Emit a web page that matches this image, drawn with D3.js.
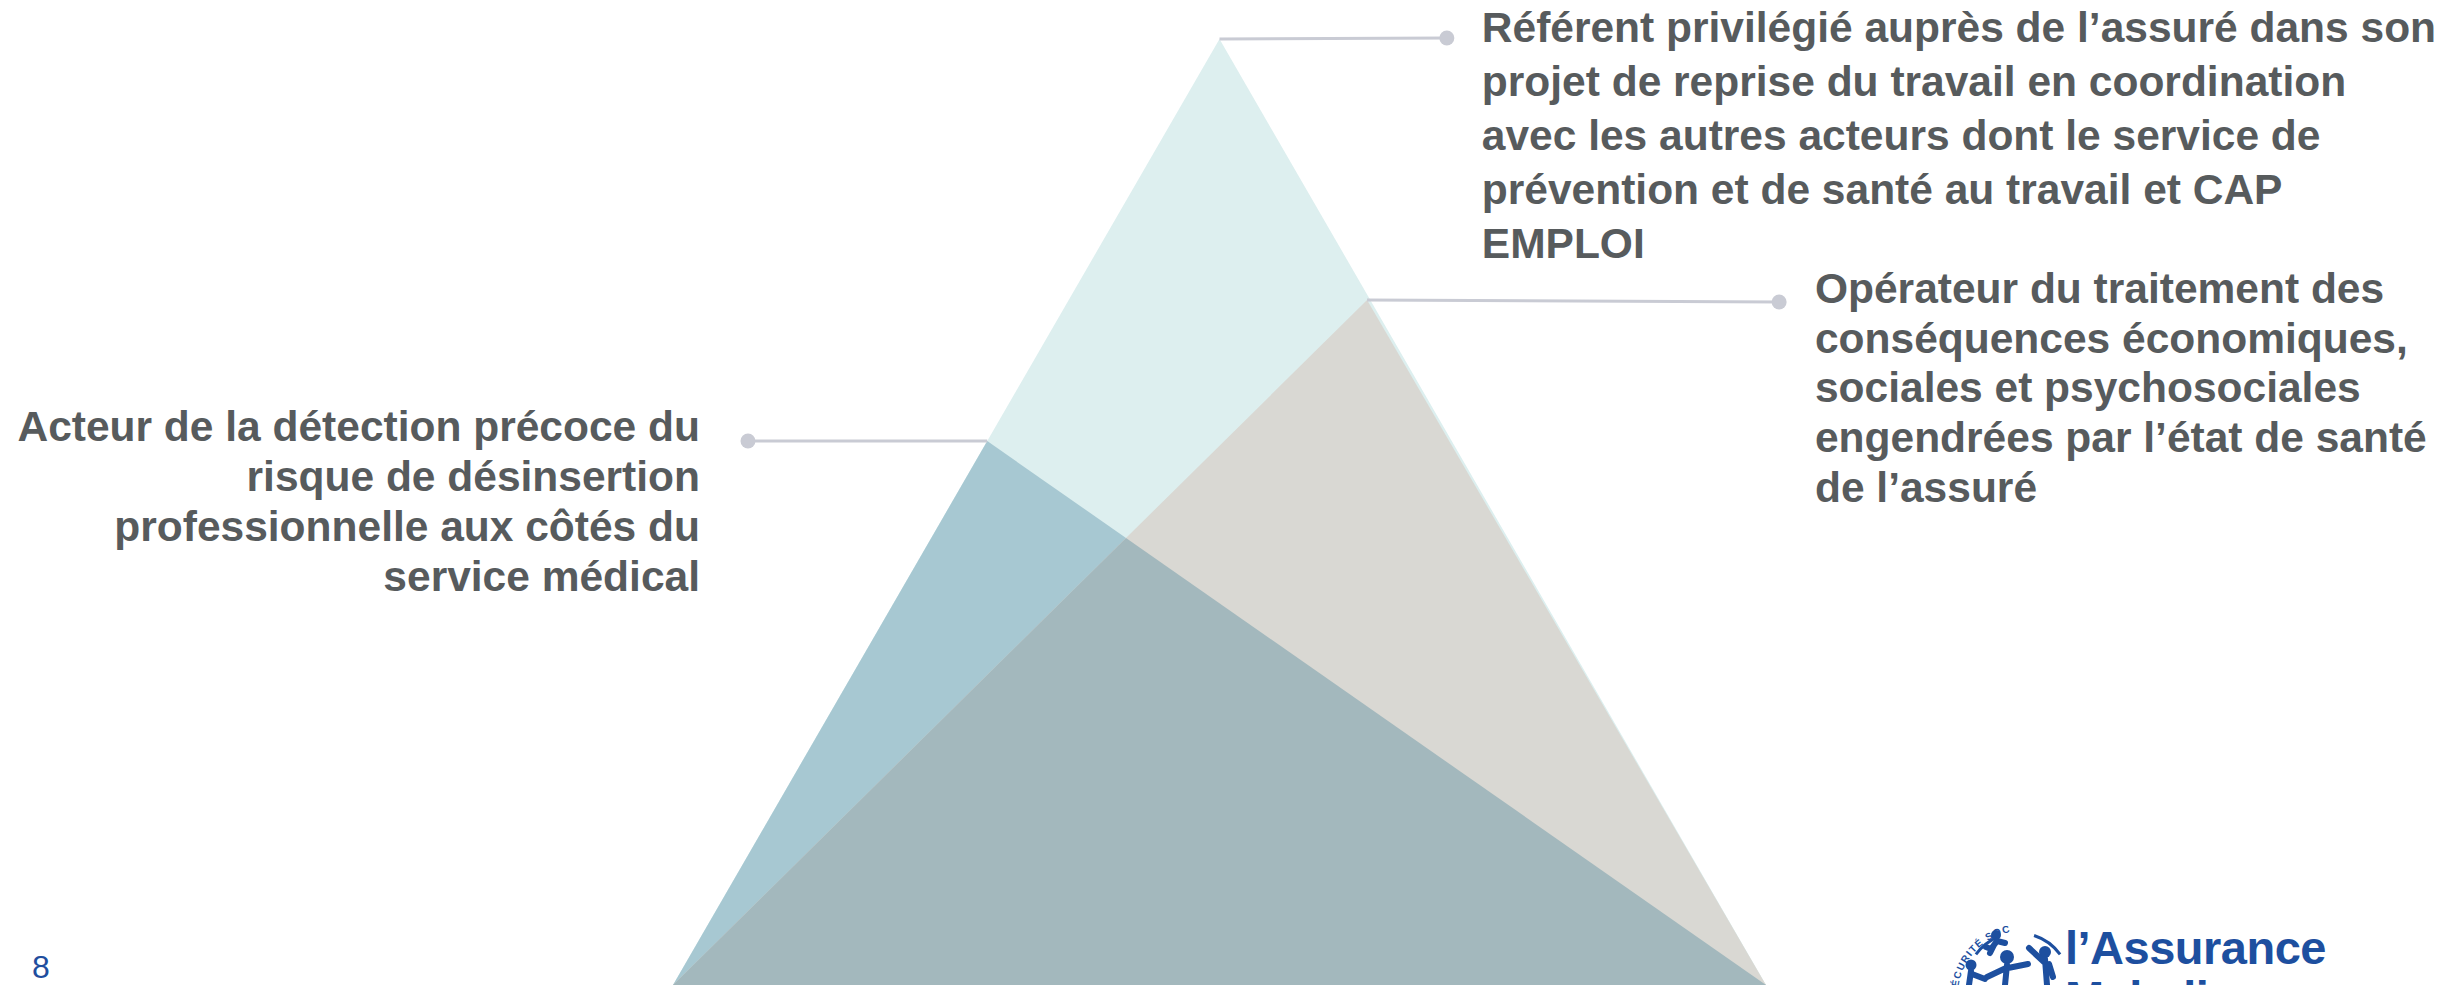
<!DOCTYPE html>
<html>
<head>
<meta charset="utf-8">
<script src="https://cdn.jsdelivr.net/npm/d3@7"></script>
<style>
  html, body { margin: 0; padding: 0; background: #ffffff; overflow: hidden; }
  svg { display: block; }
</style>
</head>
<body>
<svg id="chart" width="2455" height="985"></svg>
<script>
// ---------- DATA (geometry in relative units: x along the base 0..1, y height 0..1) ----------
const layerNames = ["outer", "detection", "traitement"];
const outerTriangle = [[0, 0], [0.5, 1], [1, 0]];
const detectionTriangle = [[0, 0], [0.2875, 0.575], [1, 0]];
const traitementTriangle = [[0, 0], [0.635, 0.724], [1, 0]];

const calloutNames = ["referent", "operateur", "acteur"];
const calloutAnchors = [[0.5, 1], [0.635, 0.724], [0.2875, 0.575]];
const calloutDots = [[0.708, 1.001], [1.012, 0.722], [0.0686, 0.575]];
const calloutTextPos = [[0.740, 0.9968], [1.0448, 0.721], [0.0247, 0.575]];
const calloutAlign = ["start", "start", "end"];
const calloutLineGap = [54, 49.7, 50];

const textReferent = [
  "Référent privilégié auprès de l’assuré dans son",
  "projet de reprise du travail en coordination",
  "avec les autres acteurs dont le service de",
  "prévention et de santé au travail et CAP",
  "EMPLOI"
];
const textOperateur = [
  "Opérateur du traitement des",
  "conséquences économiques,",
  "sociales et psychosociales",
  "engendrées par l’état de santé",
  "de l’assuré"
];
const textActeur = [
  "Acteur de la détection précoce du",
  "risque de désinsertion",
  "professionnelle aux côtés du",
  "service médical"
];
const pageNumber = "8";
const logoLines = ["l’Assurance", "Maladie"];
const logoArcText = "SÉCURITÉ SOCIALE";

// ---------- SCALES ----------
const svg = d3.select("#chart");
const x = d3.scaleLinear().domain([0, 1]).range([673, 1766]);
const y = d3.scaleLinear().domain([0, 1]).range([985, 39]);
const line = d3.line().x(d => x(d[0])).y(d => y(d[1]));

// intersection of detection top edge and traitement left edge
function intersect(a1, a2, b1, b2) {
  const d = (a1[0]-a2[0])*(b1[1]-b2[1]) - (a1[1]-a2[1])*(b1[0]-b2[0]);
  const t = ((a1[0]-b1[0])*(b1[1]-b2[1]) - (a1[1]-b1[1])*(b1[0]-b2[0])) / d;
  return [a1[0] + t*(a2[0]-a1[0]), a1[1] + t*(a2[1]-a1[1])];
}
const cross = intersect(detectionTriangle[1], detectionTriangle[2], traitementTriangle[0], traitementTriangle[1]);
const overlapTriangle = [[0, 0], cross, [1, 0]];

const shapes = [
  { tri: outerTriangle, fill: "#ddefef" },
  { tri: detectionTriangle, fill: "#a7c8d2" },
  { tri: traitementTriangle, fill: "#d9d8d3" },
  { tri: overlapTriangle, fill: "#a3b8bd" }
];
svg.append("g").selectAll("path").data(shapes).join("path")
  .attr("d", d => line(d.tri) + "Z")
  .attr("fill", d => d.fill)
  .attr("stroke", "none");

// ---------- CALLOUTS ----------
const texts = [textReferent, textOperateur, textActeur];
const callouts = calloutNames.map((n, i) => ({
  name: n, anchor: calloutAnchors[i], dot: calloutDots[i],
  tp: calloutTextPos[i], align: calloutAlign[i], lines: texts[i], gap: calloutLineGap[i]
}));
const cg = svg.append("g");
cg.selectAll("line").data(callouts).join("line")
  .attr("x1", d => x(d.anchor[0])).attr("y1", d => y(d.anchor[1]))
  .attr("x2", d => x(d.dot[0])).attr("y2", d => y(d.dot[1]))
  .attr("stroke", "#c9cbd4").attr("stroke-width", 3);
cg.selectAll("circle").data(callouts).join("circle")
  .attr("cx", d => x(d.dot[0])).attr("cy", d => y(d.dot[1]))
  .attr("r", 7.5).attr("fill", "#c9cbd4");

callouts.forEach(c => {
  const t = cg.append("text")
    .attr("x", x(c.tp[0])).attr("y", y(c.tp[1]))
    .attr("text-anchor", c.align)
    .attr("font-family", "'Liberation Sans', Arial, sans-serif")
    .attr("font-weight", "bold")
    .attr("font-size", 42.5)
    .attr("fill", "#575b5d");
  t.selectAll("tspan").data(c.lines).join("tspan")
    .attr("x", x(c.tp[0]))
    .attr("dy", (d, i) => i === 0 ? 0 : c.gap)
    .text(d => d);
});

// ---------- PAGE NUMBER ----------
svg.append("text").attr("x", 32).attr("y", 978)
  .attr("font-family", "'Liberation Sans', Arial, sans-serif")
  .attr("font-size", 32).attr("fill", "#1f4e9e").text(pageNumber);

// ---------- LOGO ----------
const blue = "#1d4f9f";
const ox = -40; // logo offset
const lg = svg.append("g").attr("transform", `translate(${ox},0)`);
lg.selectAll("text.logo").data(logoLines).join("text").attr("class", "logo")
  .attr("x", 2105).attr("y", (d, i) => 964 + i * 50)
  .attr("font-family", "'Liberation Sans', Arial, sans-serif")
  .attr("font-weight", "bold").attr("font-size", 47)
  .attr("letter-spacing", -0.5)
  .attr("fill", blue).text(d => d);

// arc text
const arcPath = d3.path();
arcPath.arc(2062, 995, 64, Math.PI * 1.0, Math.PI * 1.45, false);
lg.append("path").attr("id", "logoArc").attr("d", arcPath.toString()).attr("fill", "none");
lg.append("text").attr("font-family", "'Liberation Sans', Arial, sans-serif")
  .attr("font-weight", "bold").attr("font-size", 10).attr("letter-spacing", 1.2).attr("fill", blue)
  .append("textPath").attr("href", "#logoArc").text(logoArcText);

// dashed arcs
const a1 = d3.path(); a1.arc(2058, 985, 52, Math.PI * 1.2, Math.PI * 1.38);
const a2 = d3.path(); a2.arc(2058, 985, 52, Math.PI * 1.6, Math.PI * 1.8);
lg.append("path").attr("d", a1.toString()).attr("fill", "none").attr("stroke", blue).attr("stroke-width", 3);
lg.append("path").attr("d", a2.toString()).attr("fill", "none").attr("stroke", blue).attr("stroke-width", 3);

// figures: heads
const heads = [[2036, 935, 5], [2047, 957, 7], [2011, 965, 5.5], [2085, 952, 6]];
lg.selectAll("circle.h").data(heads).join("circle").attr("class", "h")
  .attr("cx", d => d[0]).attr("cy", d => d[1]).attr("r", d => d[2]).attr("fill", blue);
// bodies
const bodies = [
  "M2037,941 L2031,949 L2026,947 M2037,941 L2045,943 M2034,945 L2030,953",
  "M2047,965 L2045,985 M2046,968 L2027,977 M2048,968 L2068,964",
  "M2011,971 L2009,985 M2012,974 L2025,979",
  "M2085,959 L2087,985 M2084,962 L2069,948 M2089,964 L2093,977"
];
lg.selectAll("path.b").data(bodies).join("path").attr("class", "b")
  .attr("d", d => d).attr("fill", "none").attr("stroke", blue)
  .attr("stroke-width", 6).attr("stroke-linecap", "round").attr("stroke-linejoin", "round");
</script>
</body>
</html>
